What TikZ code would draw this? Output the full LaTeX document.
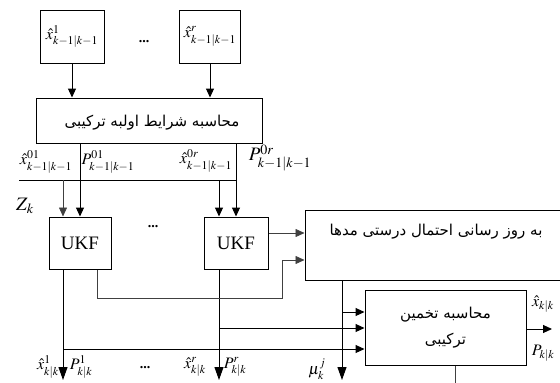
\documentclass[tikz,border=0pt]{standalone}
\usepackage{mathptmx}
\usepackage{fontspec}
\setmainfont{Liberation Serif}
\newfontfamily\fa[Script=Arabic]{DejaVu Sans}
\TeXXeTstate=1
\usetikzlibrary{arrows.meta}
\begin{document}
\begin{tikzpicture}[x=1pt,y=-1pt,
 box/.style={draw,line width=1pt,inner sep=0pt},
 ln/.style={line width=1pt},
 thn/.style={line width=0.6pt,black!75},
 arr/.style={-{Triangle[length=9pt,width=8pt]}},
 bigarr/.style={-{Triangle[length=13pt,width=9pt]}},
 fatext/.style={font=\fa\fontsize{15}{26}\selectfont,align=center,inner sep=0pt},
 lab/.style={font=\fontsize{16}{18}\selectfont,inner sep=0pt},
 blab/.style={font=\fontsize{19}{20}\selectfont,inner sep=0pt},
 dotlab/.style={font=\bfseries\fontsize{14}{16}\selectfont,inner sep=0pt}]
\useasboundingbox (0,0) rectangle (560,383);
\clip (0,0) rectangle (560,383);
% boxes
\node[box,minimum width=64pt,minimum height=53pt,lab] (b1) at (72,36.5) {$\hat{x}^1_{k-1|k-1}$};
\node[box,minimum width=61pt,minimum height=53pt,lab] (b2) at (210,36.5) {$\hat{x}^r_{k-1|k-1}$};
\node[dotlab] (dots1) at (144,42) {...};
\node[box,minimum width=226pt,minimum height=45pt] (main) at (149,120.5) {};
\node[fatext] (maintext) at (152,123) {\beginR محاسبه شرایط اولبه ترکیبی\endR};
\node[box,minimum width=62pt,minimum height=52pt,blab] (ukf1) at (80,243) {UKF};
\node[box,minimum width=64pt,minimum height=52pt,blab] (ukf2) at (236,243) {UKF};
\node[dotlab] (dots2) at (153,227) {...};
\node[box,minimum width=265pt,minimum height=70pt] (upd) at (437.5,245) {};
\node[fatext] (updtext) at (436,232) {\beginR به روز رسانی احتمال درستی مدها\endR};
\node[box,minimum width=161pt,minimum height=75pt,fatext] (comb) at (445.5,327.5) {\beginR محاسبه تخمین\endR\\\beginR ترکیبی\endR};
% labels
\node[lab] (lx01) at (46,162) {$\hat{x}^{01}_{k-1|k-1}$};
\node[lab] (lp01) at (108,162) {$P^{01}_{k-1|k-1}$};
\node[lab] (lx0r) at (206,161) {$\hat{x}^{0r}_{k-1|k-1}$};
\node[blab] (lp0r) at (280,158) {$P^{0r}_{k-1|k-1}$};
\node[blab] (lz) at (25,206) {$Z_k$};
\node[lab] (ox1) at (48,367) {$\hat{x}^1_{k|k}$};
\node[lab] (op1) at (81,367) {$P^1_{k|k}$};
\node[dotlab] (dots3) at (145,368) {...};
\node[lab] (oxr) at (195,367) {$\hat{x}^r_{k|k}$};
\node[lab] (opr) at (235,367) {$P^r_{k|k}$};
\node[lab] (omu) at (317,369) {$\mu^j_k$};
\node[lab] (ox) at (543,304) {$\hat{x}_{k|k}$};
\node[lab] (op) at (543,353) {$P_{k|k}$};
% coordinates
\coordinate (hl1) at (19,180);
\coordinate (hl2) at (236,180);
\coordinate (t1) at (63,180);
\coordinate (t2) at (219,180);
\coordinate (e1) at (63,380);
\coordinate (e2) at (219,380);
\coordinate (e3) at (342,380);
\coordinate (r1) at (97,298);
\coordinate (r2) at (282,298);
\coordinate (r3) at (282,260);
\coordinate (h349) at (63,349);
\coordinate (h328) at (219,328);
\coordinate (h312) at (342,312);
\coordinate (outend) at (552,329);
\coordinate (bend) at (455,383);
% connectors
\draw[ln,arr] (b1.south) -- (b1.south |- main.north);
\draw[ln,arr] (b2.south) -- (b2.south |- main.north);
\draw[ln,arr] (ukf1.north |- main.south) -- (ukf1.north);
\draw[ln,arr] (ukf2.north |- main.south) -- (ukf2.north);
\draw[ln] (hl1) -- (hl2);
\draw[thn,arr] (t1) -- (t1 |- ukf1.north);
\draw[ln,arr] (t2) -- (t2 |- ukf2.north);
\draw[ln,bigarr] (e1 |- ukf1.south) -- (e1);
\draw[ln,bigarr] (e2 |- ukf2.south) -- (e2);
\draw[thn,arr] (r1 |- ukf1.south) -- (r1) -- (r2) -- (r3) -- (r3 -| upd.west);
\draw[thn,arr] (ukf2.east |- 0,233) -- (upd.west |- 0,233);
\draw[ln,arr] (h349) -- (h349 -| comb.west);
\draw[ln,arr] (h328) -- (h328 -| comb.west);
\draw[ln,bigarr] (e3 |- upd.south) -- (e3);
\draw[ln,arr] (h312) -- (h312 -| comb.west);
\draw[ln,arr] (comb.east |- outend) -- (outend);
\draw[thn] (bend |- comb.south) -- (bend);
\end{tikzpicture}
\end{document}
